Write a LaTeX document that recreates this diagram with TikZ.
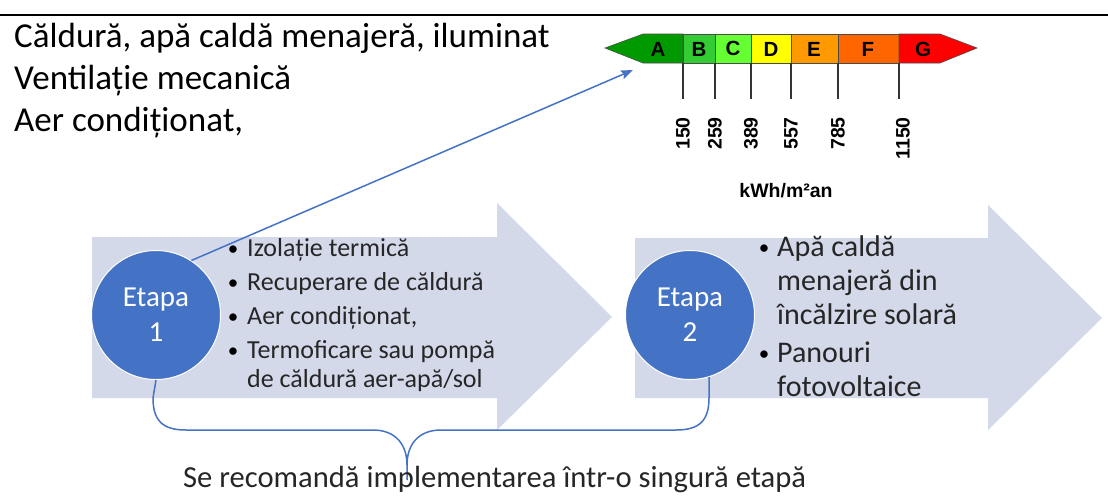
\documentclass[tikz,border=0pt]{standalone}
\usepackage{fontspec}
\setmainfont{Carlito}
\newfontfamily\labfont{Liberation Sans}
\usetikzlibrary{arrows.meta}
\definecolor{sblue}{RGB}{68,114,196}
\definecolor{lav}{RGB}{212,217,234}
\definecolor{cA}{RGB}{0,153,0}
\definecolor{cB}{RGB}{51,204,51}
\definecolor{cC}{RGB}{102,255,51}
\definecolor{cD}{RGB}{255,255,0}
\definecolor{cE}{RGB}{255,153,0}
\definecolor{cF}{RGB}{255,102,0}
\definecolor{cG}{RGB}{255,0,0}
\begin{document}
\begin{tikzpicture}[x=1pt,y=-1pt,
  toptxt/.style={anchor=base west,inner sep=0pt,font=\fontsize{35}{40}\selectfont},
  itemtxt/.style={anchor=base west,inner sep=0pt,font=\fontsize{26}{29}\selectfont,text=black!85},
  itemtxtb/.style={anchor=base west,inner sep=0pt,font=\fontsize{30}{34}\selectfont,text=black!85},
  bul/.style={anchor=base,inner sep=0pt,font=\fontsize{21}{22}\selectfont},
  stage/.style={circle,fill=sblue,draw=white,line width=1pt,minimum size=129pt,inner sep=0pt,
    text=white,align=center,font=\fontsize{29}{35}\selectfont},
  seg/.style={draw=black!70,line width=0.6pt},
  letter/.style={inner sep=0pt,font=\labfont\bfseries\fontsize{20.5}{20}\selectfont},
  val/.style={inner sep=0pt,rotate=90,anchor=east,font=\labfont\bfseries\fontsize{19.5}{20}\selectfont},
  tick/.style={draw=black!80,line width=1.3pt},
  conn/.style={draw=sblue,line width=1.5pt},
  bigarrow/.style={fill=lav}
]
\useasboundingbox (0,0) rectangle (1108,496);
% top rule
\draw[line width=2pt] (0,15) -- (1108,15);
% top-left text
\node[toptxt] (t1) at (14,47) {Căldură, apă caldă menajeră, iluminat};
\node[toptxt] (t2) at (14,89) {Ventilație mecanică};
\node[toptxt] (t3) at (14,131) {Aer condiționat,};
% energy bar
\fill[cA] (605,48) -- (643,34) -- (683,34) -- (683,63) -- (643,63) -- cycle;
\draw[seg] (605,48) -- (643,34) -- (683,34) -- (683,63) -- (643,63) -- cycle;
\filldraw[seg,fill=cB] (683,34) rectangle (715,63);
\filldraw[seg,fill=cC] (715,34) rectangle (751,63);
\filldraw[seg,fill=cD] (751,34) rectangle (791,63);
\filldraw[seg,fill=cE] (791,34) rectangle (838,63);
\filldraw[seg,fill=cF] (838,34) rectangle (899,63);
\filldraw[seg,fill=cG] (899,34) -- (940,34) -- (977,48) -- (940,63) -- (899,63) -- cycle;
\node[letter] (lA) at (658,49) {A};
\node[letter] (lB) at (699,49) {B};
\node[letter] (lC) at (733,48) {C};
\node[letter] (lD) at (771,49) {D};
\node[letter] (lE) at (814,49) {E};
\node[letter] (lF) at (868,49) {F};
\node[letter] (lG) at (923,49) {G};
\foreach \x in {683,715,751,791,838,899} \draw[tick] (\x,63) -- (\x,99);
\node[val] (v1) at (683,117) {150};
\node[val] (v2) at (715,117) {259};
\node[val] (v3) at (751,117) {389};
\node[val] (v4) at (791,117) {557};
\node[val] (v5) at (838,117) {785};
\node[val] (v6) at (903,117) {1150};
\node[inner sep=0pt,font=\labfont\bfseries\fontsize{19.5}{20}\selectfont] (unit) at (786,191) {kWh/m²an};
% big arrows
\fill[bigarrow] (92,237) -- (497,237) -- (497,203) -- (612,317) -- (497,430) -- (497,398) -- (92,398) -- cycle;
\fill[bigarrow] (635,238) -- (988,238) -- (988,205) -- (1102,318) -- (988,430) -- (988,398) -- (635,398) -- cycle;
% circles
\node[stage] (c1) at (156,315) {Etapa\\1};
\node[stage] (c2) at (690,315) {Etapa\\2};
% connector to label
\coordinate (tgt) at (633,70);
\draw[conn,-{Stealth[length=12pt,width=9pt,inset=2pt]}] (c1.57) -- (tgt);
% bullets stage 1
\node[bul] (b11) at (233,255) {•};
\node[itemtxt] (i11) at (247,256) {Izolație termică};
\node[bul] (b12) at (233,289) {•};
\node[itemtxt] (i12) at (247,290) {Recuperare de căldură};
\node[bul] (b13) at (233,323) {•};
\node[itemtxt] (i13) at (247,324) {Aer condiționat,};
\node[bul] (b14) at (233,357) {•};
\node[itemtxt] (i14) at (247,358) {Termoficare sau pompă};
\node[itemtxt] (i15) at (247,387) {de căldură aer-apă/sol};
% bullets stage 2
\node[bul] (b21) at (764,254) {•};
\node[itemtxtb] (i21) at (777,256) {Apă caldă};
\node[itemtxtb] (i22) at (777,290) {menajeră din};
\node[itemtxtb] (i23) at (777,324) {încălzire solară};
\node[bul] (b22) at (764,360) {•};
\node[itemtxtb] (i24) at (777,362) {Panouri};
\node[itemtxtb] (i25) at (777,396) {fotovoltaice};
% brace
\coordinate (cusp) at (407,480);
\draw[conn] (c1.south) -- (153,398) .. controls (153,421) and (163,430) .. (186,430) -- (373,430)
  .. controls (396,430) and (407,445) .. (407,465) -- (cusp);
\draw[conn] (c2.-73) -- (709,398) .. controls (709,421) and (699,430) .. (676,430) -- (441,430)
  .. controls (418,430) and (407,445) .. (407,465);
% bottom text
\node[anchor=base west,inner sep=0pt,font=\fontsize{30.6}{34}\selectfont,text=black!85] (bt) at (183,487) {Se recomandă implementarea într-o singură etapă};
\end{tikzpicture}
\end{document}
